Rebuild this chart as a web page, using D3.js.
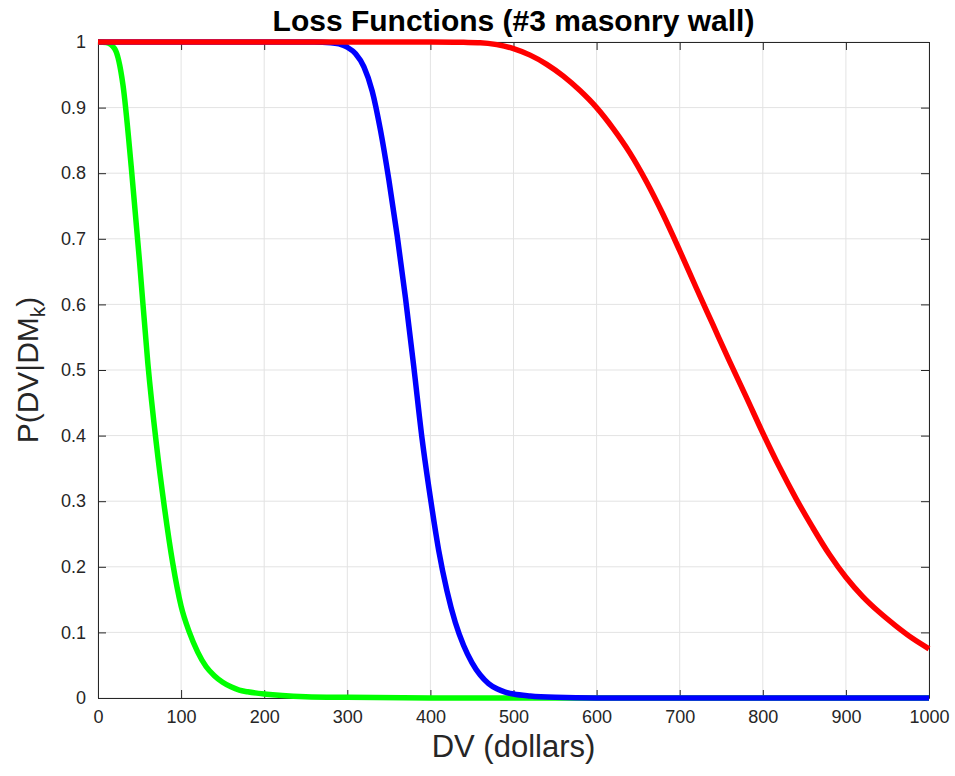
<!DOCTYPE html>
<html>
<head>
<meta charset="utf-8">
<script src="https://cdn.jsdelivr.net/npm/d3@7"></script>
<style>
  body { margin: 0; background: #fff; }
  svg text { font-family: "Liberation Sans", Arial, sans-serif; }
</style>
</head>
<body>
<script>
// values (DV in dollars, probability)
var greenX = [0, 10, 20, 30, 40, 50, 60, 70, 80, 90, 100, 110, 120, 130, 140, 150, 160, 170, 180, 200, 250, 300, 400, 1000];
var greenY = [1, 0.999, 0.99, 0.935, 0.81, 0.665, 0.51, 0.39, 0.29, 0.205, 0.14, 0.1, 0.07, 0.048, 0.034, 0.024, 0.017, 0.012, 0.0095, 0.006, 0.002, 0.001, 0, 0];

var blueX = [0, 260, 280, 290, 300, 310, 320, 330, 340, 350, 360, 370, 380, 390, 400, 410, 420, 430, 440, 450, 460, 470, 480, 490, 500, 520, 550, 600, 1000];
var blueY = [1, 1, 0.999, 0.997, 0.992, 0.982, 0.962, 0.925, 0.865, 0.79, 0.705, 0.61, 0.505, 0.395, 0.305, 0.225, 0.163, 0.115, 0.08, 0.054, 0.035, 0.022, 0.014, 0.009, 0.006, 0.003, 0.001, 0, 0];

var redX = [0, 400, 440, 460, 480, 500, 520, 540, 560, 580, 600, 620, 640, 660, 680, 700, 720, 740, 760, 780, 800, 820, 840, 860, 880, 900, 920, 940, 960, 980, 1000];
var redY = [1, 1, 0.9995, 0.999, 0.996, 0.99, 0.98, 0.966, 0.948, 0.926, 0.9, 0.868, 0.831, 0.787, 0.737, 0.682, 0.625, 0.569, 0.513, 0.459, 0.404, 0.352, 0.304, 0.26, 0.219, 0.184, 0.155, 0.131, 0.11, 0.091, 0.075];

var xTicks = [0, 100, 200, 300, 400, 500, 600, 700, 800, 900, 1000];
var yTicks = [0, 0.1, 0.2, 0.3, 0.4, 0.5, 0.6, 0.7, 0.8, 0.9, 1];

var series = [
  {name: 'green', color: '#00ff00', xs: greenX, ys: greenY},
  {name: 'blue', color: '#0000ff', xs: blueX, ys: blueY},
  {name: 'red', color: '#ff0000', xs: redX, ys: redY}
];

var width = 955, height = 776;
var margin = {top: 42, right: 26, bottom: 78, left: 98};
var w = width - margin.left - margin.right,
  h = height - margin.top - margin.bottom;

var svg = d3.select(document.body).append('svg')
  .attr('width', width)
  .attr('height', height);

var x = d3.scaleLinear().domain([0, 1000]).range([0, w]);
var y = d3.scaleLinear().domain([0, 1]).range([h, 0]);

var g = svg.append('g')
  .attr('transform', 'translate(' + margin.left + ',' + margin.top + ')');

// grid
g.append('g').selectAll('line')
  .data(xTicks).enter().append('line')
  .attr('x1', function (d) { return x(d); })
  .attr('x2', function (d) { return x(d); })
  .attr('y1', 0).attr('y2', h)
  .attr('stroke', '#e3e3e3').attr('stroke-width', 1);
g.append('g').selectAll('line')
  .data(yTicks).enter().append('line')
  .attr('y1', function (d) { return y(d); })
  .attr('y2', function (d) { return y(d); })
  .attr('x1', 0).attr('x2', w)
  .attr('stroke', '#e3e3e3').attr('stroke-width', 1);

var fmt = function (d) { return String(+d.toFixed(1)); };

// axes, ticks pointing inward like the original
var axisColor = '#262626';
var xb = g.append('g').attr('transform', 'translate(0,' + h + ')')
  .call(d3.axisBottom(x).tickValues(xTicks).tickSizeInner(-8).tickSizeOuter(0).tickPadding(12).tickFormat(fmt));
var xt = g.append('g')
  .call(d3.axisTop(x).tickValues(xTicks).tickSizeInner(-8).tickSizeOuter(0).tickFormat(''));
var yl = g.append('g')
  .call(d3.axisLeft(y).tickValues(yTicks).tickSizeInner(-8).tickSizeOuter(0).tickPadding(12).tickFormat(fmt));
var yr = g.append('g').attr('transform', 'translate(' + w + ',0)')
  .call(d3.axisRight(y).tickValues(yTicks).tickSizeInner(-8).tickSizeOuter(0).tickFormat(''));

[xb, xt, yl, yr].forEach(function (a) {
  a.selectAll('path').attr('stroke', axisColor).attr('stroke-width', 1);
  a.selectAll('line').attr('stroke', axisColor).attr('stroke-width', 1);
  a.selectAll('text').attr('fill', axisColor).style('font-size', '18px')
    .style('font-family', '"Liberation Sans", Arial, sans-serif');
});

// curves
var line = d3.line()
  .x(function (d) { return x(d[0]); })
  .y(function (d) { return y(d[1]); })
  .curve(d3.curveMonotoneX);

g.selectAll('.curve')
  .data(series)
  .enter().append('path')
  .attr('class', 'curve')
  .attr('d', function (s) { return line(d3.zip(s.xs, s.ys)); })
  .attr('fill', 'none')
  .attr('stroke', function (s) { return s.color; })
  .attr('stroke-width', 5.5)
  .attr('stroke-linejoin', 'round');

// title and labels
svg.append('text')
  .attr('x', margin.left + w / 2)
  .attr('y', 31)
  .attr('text-anchor', 'middle')
  .style('font-size', '30px')
  .style('font-weight', 'bold')
  .attr('fill', '#000')
  .text('Loss Functions (#3 masonry wall)');

svg.append('text')
  .attr('x', margin.left + w / 2)
  .attr('y', 757)
  .attr('text-anchor', 'middle')
  .style('font-size', '31px')
  .attr('fill', axisColor)
  .text('DV (dollars)');

var yLab = svg.append('text')
  .attr('transform', 'translate(38,' + (margin.top + h / 2) + ') rotate(-90)')
  .attr('text-anchor', 'middle')
  .style('font-size', '30px')
  .attr('fill', axisColor);
yLab.append('tspan').text('P(DV|DM');
yLab.append('tspan').attr('dy', 7).style('font-size', '21px').text('k');
yLab.append('tspan').attr('dy', -7).text(')');
</script>
</body>
</html>
